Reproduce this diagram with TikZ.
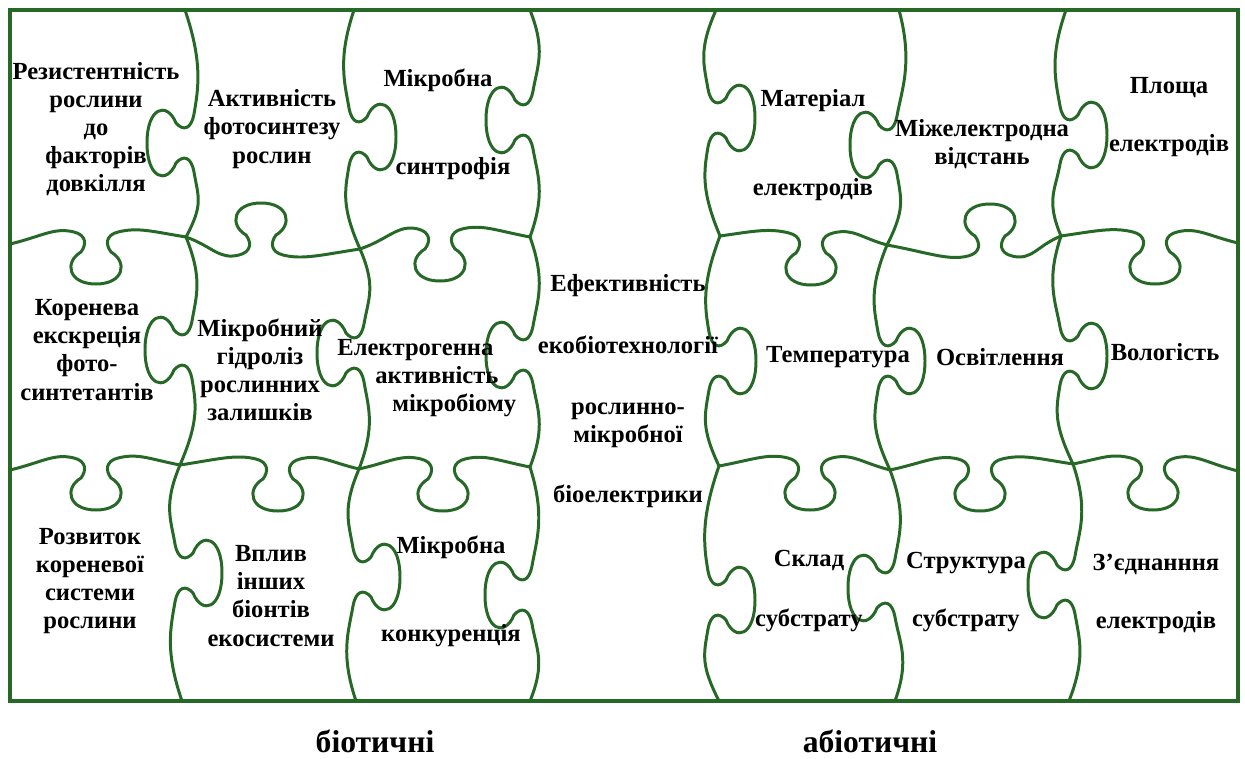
\documentclass[tikz,border=0pt]{standalone}
\usepackage{fontspec}
\setmainfont{Liberation Serif}
\definecolor{puzzle}{RGB}{38,104,38}

\begin{document}
\begin{tikzpicture}[x=0.02cm, y=-0.02cm,
	jigline/.style={draw=puzzle, line width=1.7pt},
	frameline/.style={draw=puzzle, line width=2.5pt},
	factor/.style={font=\bfseries\fontsize{14}{16}\selectfont, align=center, inner sep=0pt},
	group/.style={font=\bfseries\fontsize{18}{20}\selectfont, inner sep=0pt}]
	\useasboundingbox (0,0) rectangle (1245,758);

	% horizontal edge: start, knob centre, side (1 down, -1 up), end
	\def\hjig#1#2#3#4#5#6#7{
		\draw[jigline] (#1,#2)
			.. controls ({#1+0.5*(#3-22-#1)},{#2+0.3*(#4-#2)-(#5)*4}) and ({#3-42},{#4-(#5)*5}) .. ({#3-22},{#4})
			.. controls ({#3-10},{#4+(#5)*3}) and ({#3-9},{#4+(#5)*12}) .. ({#3-15},{#4+(#5)*20})
			.. controls ({#3-32},{#4+(#5)*30}) and ({#3-28},{#4+(#5)*52}) .. ({#3},{#4+(#5)*52})
			.. controls ({#3+28},{#4+(#5)*52}) and ({#3+32},{#4+(#5)*30}) .. ({#3+15},{#4+(#5)*20})
			.. controls ({#3+9},{#4+(#5)*12}) and ({#3+10},{#4+(#5)*3}) .. ({#3+22},{#4})
			.. controls ({#3+42},{#4-(#5)*5}) and ({#6-0.5*(#6-#3-22)},{#7+0.3*(#4-#7)-(#5)*4}) .. (#6,#7);
	}
	% vertical edge: start, knob centre, side (1 right, -1 left), end
	\def\vjig#1#2#3#4#5#6#7{
		\draw[jigline] (#1,#2)
			.. controls ({#1+0.3*(#3-#1)-(#5)*15},{#2+0.5*(#4-29-#2)}) and ({#3-(#5)*4.5},{#4-55}) .. ({#3},{#4-29})
			.. controls ({#3+(#5)*3},{#4-13}) and ({#3+(#5)*11},{#4-12}) .. ({#3+(#5)*18},{#4-20})
			.. controls ({#3+(#5)*27},{#4-42}) and ({#3+(#5)*47},{#4-36}) .. ({#3+(#5)*47},{#4})
			.. controls ({#3+(#5)*47},{#4+36}) and ({#3+(#5)*27},{#4+42}) .. ({#3+(#5)*18},{#4+20})
			.. controls ({#3+(#5)*11},{#4+12}) and ({#3+(#5)*3},{#4+13}) .. ({#3},{#4+29})
			.. controls ({#3-(#5)*4.5},{#4+55}) and ({#6+0.3*(#3-#6)-(#5)*15},{#7-0.5*(#7-#4-29)}) .. (#6,#7);
	}

	\hjig{10}{244}{96}{232}{1}{186}{237}
	\hjig{186}{237}{261}{255}{-1}{360}{249}
	\hjig{360}{249}{440}{229}{1}{530}{237}
	\hjig{720}{236}{811}{233}{1}{887}{245}
	\hjig{887}{245}{990}{256}{-1}{1061}{236}
	\hjig{1061}{236}{1155}{232}{1}{1238}{243}

	\hjig{10}{470}{96}{458}{1}{180}{465}
	\hjig{180}{465}{278}{459}{1}{359}{469}
	\hjig{359}{469}{443}{459}{1}{530}{467}
	\hjig{719}{466}{810}{458}{1}{890}{470}
	\hjig{890}{470}{980}{459}{1}{1073}{464}
	\hjig{1073}{464}{1153}{458}{1}{1238}{471}

	\vjig{185}{10}{194}{143}{-1}{186}{237}
	\vjig{186}{237}{192}{350}{-1}{180}{465}
	\vjig{180}{465}{175}{573}{1}{182}{701}
	\vjig{354}{10}{349}{137}{1}{360}{249}
	\vjig{360}{249}{364}{353}{-1}{359}{469}
	\vjig{359}{469}{353}{577}{1}{356}{701}
	\vjig{530}{10}{533}{120}{-1}{530}{237}
	\vjig{530}{237}{533}{355}{-1}{530}{467}
	\vjig{530}{467}{532}{595}{-1}{530}{701}
	\vjig{716}{10}{708}{118}{1}{720}{236}
	\vjig{720}{236}{709}{361}{1}{719}{466}
	\vjig{719}{466}{708}{600}{1}{719}{701}
	\vjig{899}{10}{897}{145}{-1}{887}{245}
	\vjig{887}{245}{878}{361}{1}{890}{470}
	\vjig{890}{470}{895}{588}{-1}{895}{701}
	\vjig{1066}{10}{1060}{135}{1}{1061}{236}
	\vjig{1061}{236}{1060}{356}{1}{1073}{464}
	\vjig{1073}{464}{1075}{585}{-1}{1069}{701}

	\draw[frameline] (10,10) rectangle (1238,701);

	\node[factor] (resist) at (96,129) {Резистентність\\рослини\\до\\факторів\\довкілля};
	\node[factor] (photo) at (272,129) {Активність\\фотосинтезу\\рослин};
	\node[factor] (syntr) at (438,124) {Мікробна\\[34pt]\hspace*{0.6cm}синтрофія};
	\node[factor] (effect) at (628,391)
		{Ефективність\\[19pt]екобіотехнології\\[19pt]рослинно-\\мікробної\\[18pt]біоелектрики};
	\node[factor] (matter) at (813,145) {Матеріал\\[35pt]електродів};
	\node[factor] (distance) at (982,144) {Міжелектродна\\відстань};
	\node[factor] (area) at (1169,117) {Площа\\[17pt]електродів};

	\node[factor] (exud) at (87,350) {Коренева\\екскреція\\фото-\\синтетантів};
	\node[factor] (hydro) at (260,370) {Мікробний\\гідроліз\\рослинних\\залишків};
	\node[factor, align=left, anchor=west] (electro) at (337,378)
		{Електрогенна\\\hspace*{0.76cm}активність\\\hspace*{1.1cm}мікробіому};
	\node[factor] (temp) at (838,357) {Температура};
	\node[factor] (light) at (1000,357) {Освітлення};
	\node[factor] (moist) at (1165,352) {Вологість};

	\node[factor] (roots) at (90,581) {Розвиток\\кореневої\\системи\\рослини};
	\node[factor] (bionts) at (271,596) {Вплив\\інших\\біонтів\\екосистеми};
	\node[factor] (compet) at (451,591) {Мікробна\\[34pt]конкуренція};
	\node[factor] (compos) at (809,591) {Склад\\[18pt]субстрату};
	\node[factor] (struct) at (966,592) {Структура\\[17pt]субстрату};
	\node[factor] (joint) at (1156,594) {З’єднанння\\[17pt]електродів};

	\node[group] (biotic) at (375,741) {біотичні};
	\node[group] (abiotic) at (870,741) {абіотичні};
\end{tikzpicture}
\end{document}
